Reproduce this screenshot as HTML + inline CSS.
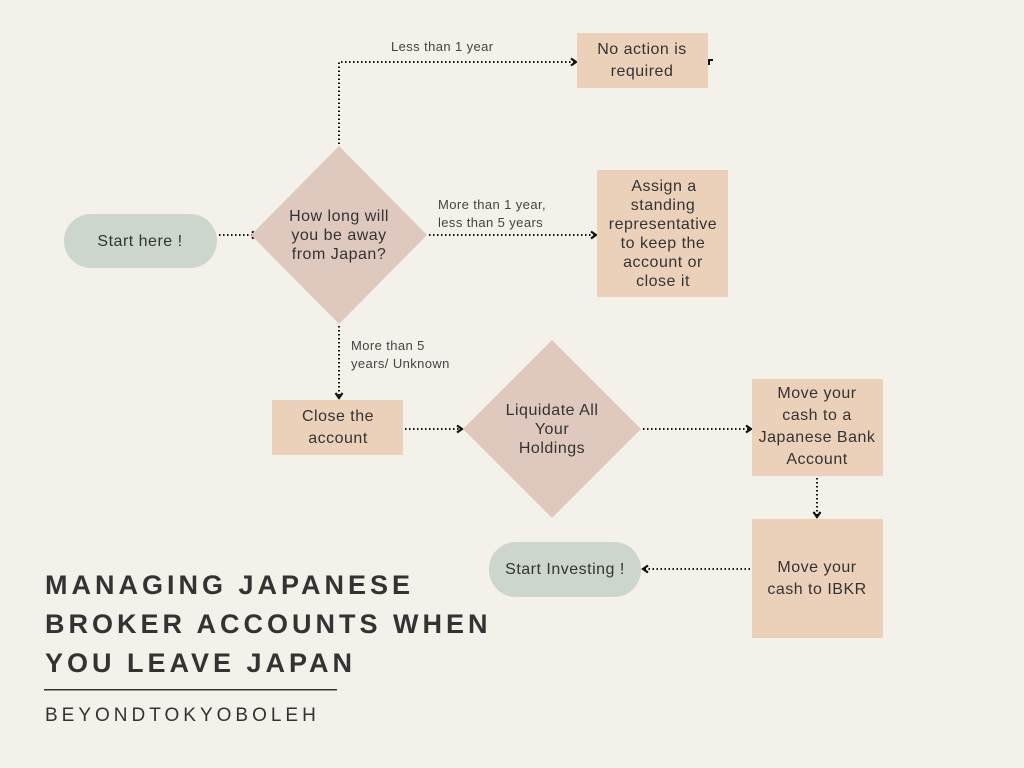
<!DOCTYPE html>
<html><head><meta charset="utf-8"><style>
html,body{margin:0;padding:0;background:#f4f0ea;}
svg{display:block;font-family:"Liberation Sans",sans-serif;}
</style></head><body>
<svg width="1024" height="768" viewBox="0 0 1024 768" xmlns="http://www.w3.org/2000/svg">
<defs>
<marker id="a" markerWidth="10" markerHeight="10" refX="7" refY="5" orient="auto" markerUnits="userSpaceOnUse">
<path d="M2,1.5 L7,5 L2,8.5" fill="none" stroke="#111" stroke-width="2.2"/>
</marker>
</defs>
<rect width="1024" height="768" fill="#f4f0ea"/>
<g fill="none" stroke="#111" stroke-width="2" stroke-dasharray="1.5 2.5">
<path d="M219,235 H257" marker-end="url(#a)"/>
<path d="M339,144 V62 H576" marker-end="url(#a)"/>
<path d="M429,235 H596" marker-end="url(#a)"/>
<path d="M339,326 V398" marker-end="url(#a)"/>
<path d="M405,429 H462" marker-end="url(#a)"/>
<path d="M643,429 H751" marker-end="url(#a)"/>
<path d="M817,478 V517" marker-end="url(#a)"/>
<path d="M750,569 H643" marker-end="url(#a)"/>
</g>
<path d="M709,65 V60 H713" fill="none" stroke="#111" stroke-width="2"/>
<rect x="64" y="214" width="153" height="54" rx="27" fill="#cdd6cc"/>
<rect x="489" y="542" width="152" height="55" rx="27" fill="#cdd6cc"/>
<polygon points="339,146 427,235 339,324 251,235" fill="#dfc9be"/>
<polygon points="552,340 641,429 552,518 463,429" fill="#dfc9be"/>
<g fill="#ecd1ba">
<rect x="577" y="33" width="131" height="55"/>
<rect x="597" y="170" width="131" height="127"/>
<rect x="272" y="400" width="131" height="55"/>
<rect x="752" y="379" width="131" height="97"/>
<rect x="752" y="519" width="131" height="119"/>
</g>
<g fill="#333" font-size="16" text-anchor="middle" letter-spacing="0.5">
<text x="140" y="246">Start here !</text>
<text x="565" y="574">Start Investing !</text>
<text x="339" y="221">How long will</text>
<text x="339" y="240">you be away</text>
<text x="339" y="259">from Japan?</text>
<text x="552" y="415">Liquidate All</text>
<text x="552" y="434">Your</text>
<text x="552" y="453">Holdings</text>
<text x="642" y="54">No action is</text>
<text x="642" y="76">required</text>
<text x="664" y="191">Assign a</text>
<text x="663" y="210">standing</text>
<text x="663" y="229">representative</text>
<text x="663" y="248">to keep the</text>
<text x="663" y="267">account or</text>
<text x="663" y="286">close it</text>
<text x="338" y="421">Close the</text>
<text x="338" y="443">account</text>
<text x="817" y="398">Move your</text>
<text x="817" y="420">cash to a</text>
<text x="817" y="442">Japanese Bank</text>
<text x="817" y="464">Account</text>
<text x="817" y="572">Move your</text>
<text x="817" y="594">cash to IBKR</text>
</g>
<g fill="#444" font-size="13" letter-spacing="0.4">
<text x="391" y="51">Less than 1 year</text>
<text x="438" y="209">More than 1 year,</text>
<text x="438" y="227">less than 5 years</text>
<text x="351" y="350">More than 5</text>
<text x="351" y="368">years/ Unknown</text>
</g>
<g fill="#333" font-size="27" font-weight="bold" letter-spacing="4">
<text x="45" y="594">MANAGING JAPANESE</text>
<text x="45" y="633">BROKER ACCOUNTS WHEN</text>
<text x="45" y="672">YOU LEAVE JAPAN</text>
</g>
<rect x="44" y="689" width="293" height="1.5" fill="#333"/>
<text x="45" y="721" fill="#333" font-size="19" letter-spacing="4">BEYONDTOKYOBOLEH</text>
</svg>
</body></html>
